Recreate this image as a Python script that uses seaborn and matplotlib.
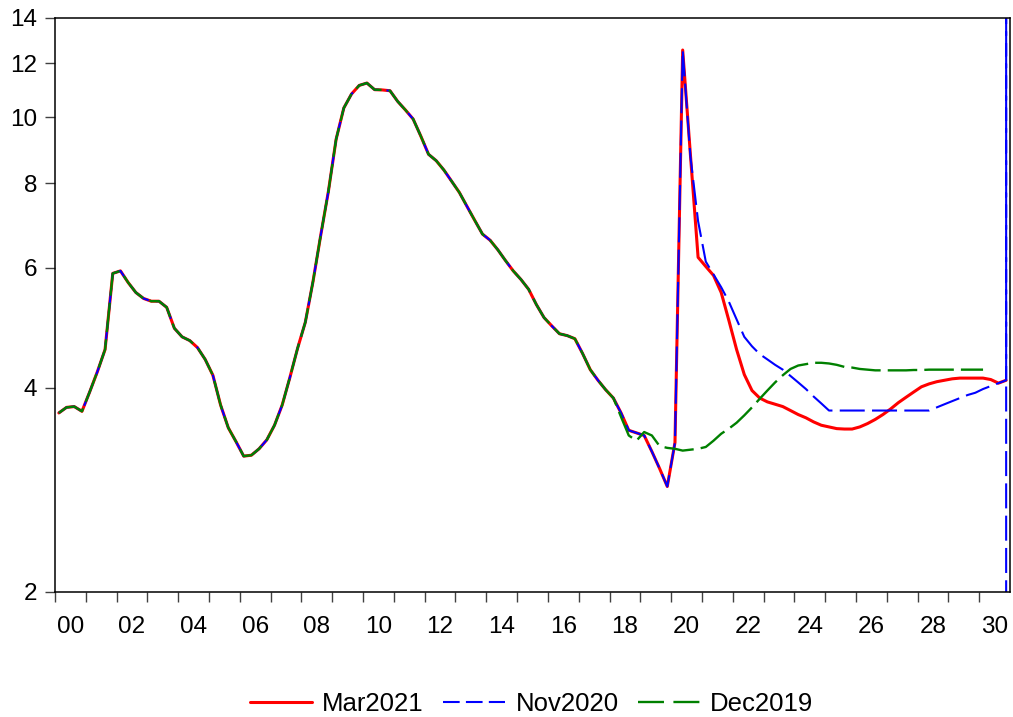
import numpy as np
import pandas as pd
import matplotlib
matplotlib.use('Agg')
import matplotlib.pyplot as plt
from matplotlib.ticker import NullLocator
import seaborn as sns

# quarterly observations, 2000Q1 .. 2030Q4
quarters = pd.period_range('2000Q1', '2030Q4', freq='Q')

# common history 2000Q1 .. 2018Q1
history = [3.67, 3.74, 3.75, 3.69, 3.94, 4.22, 4.55, 5.89, 5.94, 5.71,
           5.52, 5.41, 5.36, 5.36, 5.25, 4.89, 4.75, 4.69, 4.58, 4.40,
           4.17, 3.77, 3.49, 3.33, 3.17, 3.18, 3.25, 3.35, 3.52, 3.77,
           4.14, 4.57, 4.99, 5.73, 6.70, 7.78, 9.28, 10.32, 10.82, 11.14,
           11.23, 10.98, 10.97, 10.94, 10.55, 10.25, 9.94, 9.38, 8.82, 8.63,
           8.36, 8.05, 7.75, 7.39, 7.05, 6.73, 6.59, 6.38, 6.15, 5.94,
           5.77, 5.58, 5.30, 5.07, 4.93, 4.80, 4.77, 4.72, 4.49, 4.25,
           4.10, 3.97, 3.86]

# vintages from 2018Q2 on
mar2021_tail = [3.67, 3.46, 3.43, 3.40, 3.22, 3.04, 2.86, 3.32, 12.56, 8.82,
                6.22, 6.03, 5.85, 5.52, 5.02, 4.55, 4.18, 3.96, 3.86, 3.81,
                3.78, 3.75, 3.70, 3.65, 3.61, 3.56, 3.52, 3.50, 3.48, 3.475,
                3.475, 3.50, 3.54, 3.59, 3.65, 3.72, 3.80, 3.87, 3.94, 4.01,
                4.05, 4.08, 4.10, 4.12, 4.13, 4.13, 4.13, 4.13, 4.11, 4.06,
                4.10]
nov2020_tail = [3.67, 3.46, 3.43, 3.40, 3.22, 3.04, 2.86, 3.32, 12.56, 8.76,
                7.03, 6.13, 5.87, 5.62, 5.35, 5.04, 4.75, 4.60, 4.48, 4.40,
                4.32, 4.25, 4.16, 4.07, 3.98, 3.88, 3.79, 3.70, 3.70, 3.70,
                3.70, 3.70, 3.70, 3.70, 3.70, 3.70, 3.70, 3.70, 3.70, 3.70,
                3.70, 3.74, 3.78, 3.82, 3.86, 3.90, 3.93, 3.98, 4.02, 4.06,
                4.10]
# last Nov2020 observation shoots off the scale both ways
nov2020_spike = [1000.0, 0.1]
dec2019_tail = [3.62, 3.40, 3.34, 3.44, 3.40, 3.28, 3.26, 3.25, 3.23, 3.24,
                3.25, 3.27, 3.34, 3.42, 3.48, 3.55, 3.64, 3.74, 3.85, 3.96,
                4.07, 4.17, 4.26, 4.31, 4.33, 4.35, 4.35, 4.34, 4.32, 4.29,
                4.28, 4.26, 4.25, 4.24, 4.24, 4.24, 4.24, 4.24, 4.245, 4.245,
                4.25, 4.25, 4.25, 4.25, 4.25, 4.25, 4.25, 4.25]

series_names = ['Mar2021', 'Nov2020', 'Dec2019']
year_ticks = list(range(2000, 2031))
label_years = list(range(2000, 2031, 2))
year_labels = [f'{y % 100:02d}' for y in label_years]
y_ticks = [2, 4, 6, 8, 10, 12, 14]

sns.set_style('ticks')
plt.rcParams['font.family'] = ['Liberation Sans', 'DejaVu Sans']

# plot each quarter in the middle of its period
t = np.asarray(quarters.year + (quarters.quarter - 1) / 4 + 0.125, dtype=float)

mar = history + mar2021_tail
nov = history + nov2020_tail + nov2020_spike
nov_t = np.concatenate([t, [t[-1]] * len(nov2020_spike)])
dec = history + dec2019_tail

fig = plt.figure(figsize=(10.13, 7.17), dpi=100)
ax = fig.add_axes([55 / 1013, 1 - 592 / 717, 955 / 1013, 574 / 717])

sns.lineplot(x=t[:len(mar)], y=mar, ax=ax, color='#ff0000', lw=2.2,
             label=series_names[0], sort=False, estimator=None)
sns.lineplot(x=nov_t, y=nov, ax=ax, color='#0000ff', lw=1.5,
             linestyle=(0, (12, 3.5)), label=series_names[1], sort=False, estimator=None)
sns.lineplot(x=t[:len(dec)], y=dec, ax=ax, color='#008000', lw=1.7,
             linestyle=(0, (12.5, 3)), label=series_names[2], sort=False, estimator=None)

ax.set_yscale('log')
ax.set_ylim(2, 14)
ax.set_yticks(y_ticks)
ax.set_yticklabels([str(v) for v in y_ticks])
ax.yaxis.set_minor_locator(NullLocator())

ax.set_xlim(2000, 2031)
ax.set_xticks(year_ticks)
ax.set_xticklabels([''] * len(year_ticks))
ax.set_xticks([y + 0.5 for y in label_years], minor=True)
ax.set_xticklabels(year_labels, minor=True)

ax.tick_params(axis='y', which='major', length=7, width=1, pad=6,
               labelsize=17.5, color='#404040', labelcolor='black')
ax.tick_params(axis='x', which='major', length=7, width=1, color='#404040')
ax.tick_params(axis='x', which='minor', length=0, pad=17, labelsize=17.5,
               labelcolor='black')

for side in ['left', 'right', 'top', 'bottom']:
    ax.spines[side].set_visible(True)
    ax.spines[side].set_color('black')
    ax.spines[side].set_linewidth(1.1)

ax.set_xlabel('')
ax.set_ylabel('')

handles, labels = ax.get_legend_handles_labels()
ax.get_legend().remove()
leg = fig.legend(handles, labels, loc='center', bbox_to_anchor=(0.525, 0.0185),
                 ncol=3, frameon=False, fontsize=18.5, handlelength=2.4,
                 handletextpad=0.4, columnspacing=0.77)
for text in leg.get_texts():
    text.set_color('black')
leg_lines = leg.get_lines()
leg_lines[1].set_dashes([8, 3])
leg_lines[2].set_dashes([11, 4])

fig.savefig('out.png', dpi=100)
